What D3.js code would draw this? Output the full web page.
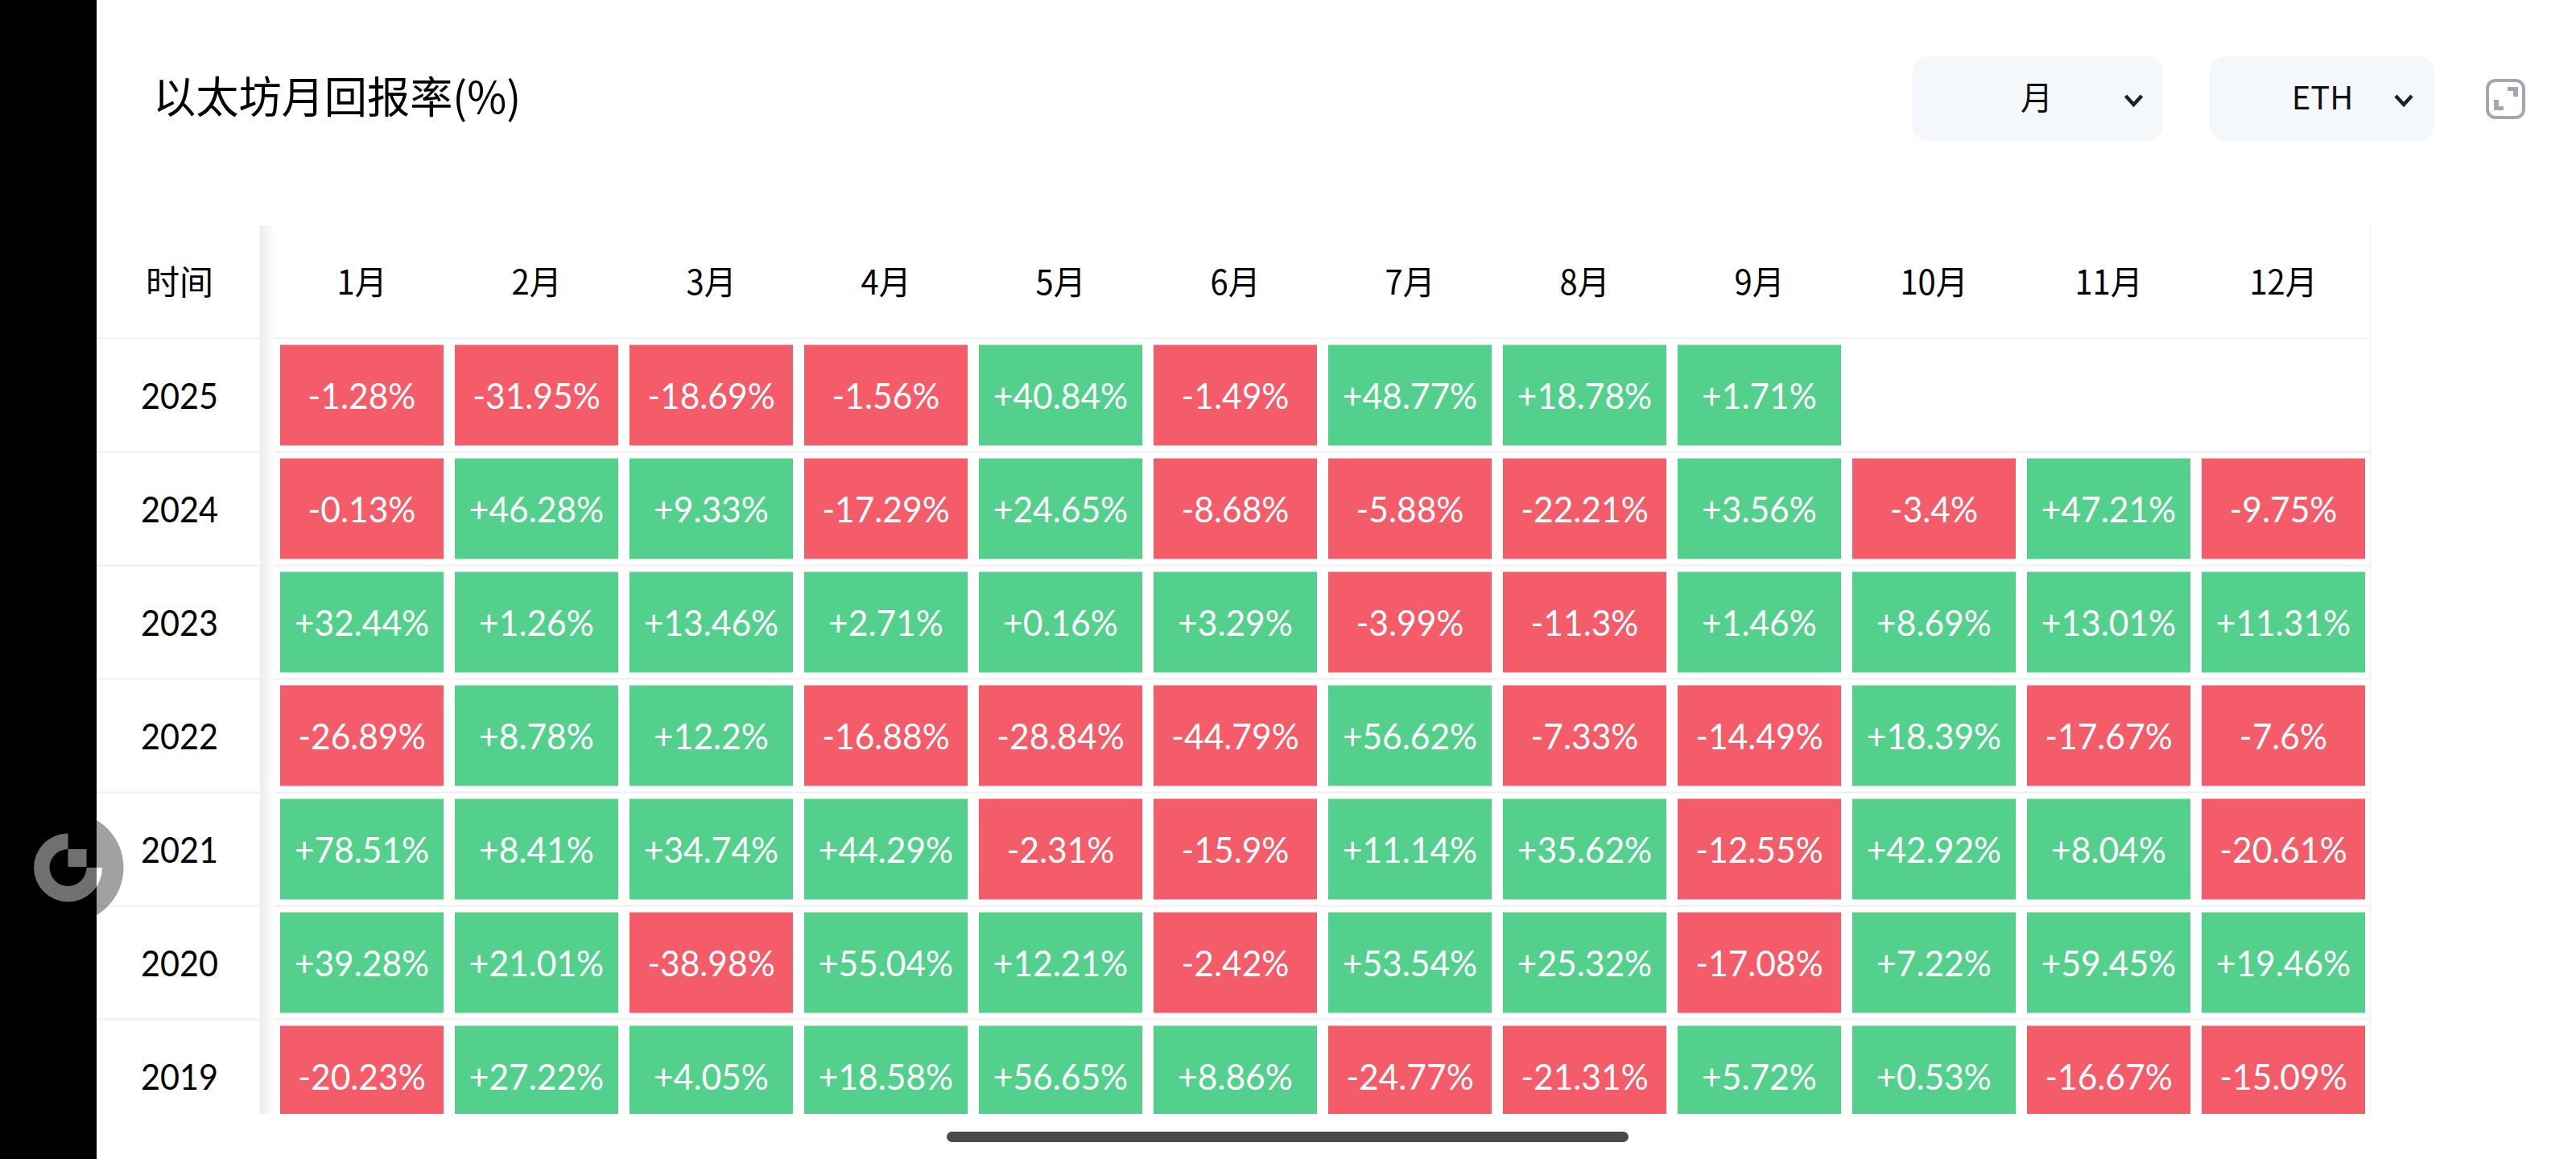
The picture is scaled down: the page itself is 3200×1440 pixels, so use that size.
<!DOCTYPE html>
<html lang="zh">
<head>
<meta charset="utf-8">
<title>以太坊月回报率(%)</title>
<script src="https://cdn.jsdelivr.net/npm/d3@7/dist/d3.min.js"></script>
<style>
html,body{margin:0;padding:0;background:#fff;}
svg{display:block;}
</style>
</head>
<body>
<svg id="chart" width="3200" height="1440"></svg>
<script>
const titleText = "以太坊月回报率(%)";
const cornerLabel = "时间";
const periodLabel = "月";
const assetLabel = "ETH";
const months = ["1月","2月","3月","4月","5月","6月","7月","8月","9月","10月","11月","12月"];
const years = ["2025","2024","2023","2022","2021","2020","2019"];
const returns2025 = [-1.28,-31.95,-18.69,-1.56,40.84,-1.49,48.77,18.78,1.71,null,null,null];
const returns2024 = [-0.13,46.28,9.33,-17.29,24.65,-8.68,-5.88,-22.21,3.56,-3.4,47.21,-9.75];
const returns2023 = [32.44,1.26,13.46,2.71,0.16,3.29,-3.99,-11.3,1.46,8.69,13.01,11.31];
const returns2022 = [-26.89,8.78,12.2,-16.88,-28.84,-44.79,56.62,-7.33,-14.49,18.39,-17.67,-7.6];
const returns2021 = [78.51,8.41,34.74,44.29,-2.31,-15.9,11.14,35.62,-12.55,42.92,8.04,-20.61];
const returns2020 = [39.28,21.01,-38.98,55.04,12.21,-2.42,53.54,25.32,-17.08,7.22,59.45,19.46];
const returns2019 = [-20.23,27.22,4.05,18.58,56.65,8.86,-24.77,-21.31,5.72,0.53,-16.67,-15.09];
const allReturns = [returns2025,returns2024,returns2023,returns2022,returns2021,returns2020,returns2019];

const CJK = '"Noto Sans CJK SC","Noto Sans",sans-serif';
const NUM = 'Lato,"Noto Sans",sans-serif';
const RED = "#f55c6a", GREEN = "#53d18c", LINE = "#eeeff1";

const svg = d3.select("#chart");
// narrow a text run horizontally, keeping its height
const squeeze = (sel, k) => sel.each(function(){
  const t = d3.select(this);
  t.attr("textLength", this.getComputedTextLength()*k).attr("lengthAdjust","spacingAndGlyphs");
});

const defs = svg.append("defs");
const grad = defs.append("linearGradient").attr("id","gutter");
grad.append("stop").attr("offset","0").attr("stop-color","#ececec");
grad.append("stop").attr("offset","1").attr("stop-color","#ffffff");
defs.append("clipPath").attr("id","tableClip").append("rect")
  .attr("x",120).attr("y",280).attr("width",2825).attr("height",1104);
defs.append("clipPath").attr("id","onBand").append("rect").attr("x",-100).attr("y",-100).attr("width",135.5).attr("height",200);
defs.append("clipPath").attr("id","offBand").append("rect").attr("x",35.5).attr("y",-100).attr("width",100).attr("height",200);

const x = d3.scaleBand().domain(months).range([341,2945]);
const y = d3.scaleBand().domain(years).range([420,1407]);
const color = d3.scaleThreshold().domain([0]).range([RED,GREEN]);
const fmt = v => (v>0?"+":"") + v + "%";

const table = svg.append("g").attr("clip-path","url(#tableClip)");

// row rules
table.append("g").selectAll("line").data(years).join("line")
  .attr("x1",120).attr("x2",2945)
  .attr("y1",d=>y(d)+0.5).attr("y2",d=>y(d)+0.5)
  .attr("stroke",LINE).attr("stroke-width",2);

// right border
table.append("line").attr("x1",2944.5).attr("x2",2944.5).attr("y1",280).attr("y2",1384)
  .attr("stroke",LINE).attr("stroke-width",1.5);

// cells
const cells = allReturns.flatMap((row,i)=>row.map((v,j)=>({year:years[i],month:months[j],v}))).filter(d=>d.v!==null);
const INSET_X = 7, INSET_TOP = 8.5, INSET_BOTTOM = 7.5;
table.append("g").selectAll("rect").data(cells).join("rect")
  .attr("x",d=>x(d.month)+INSET_X)
  .attr("y",d=>y(d.year)+INSET_TOP)
  .attr("width",x.bandwidth()-2*INSET_X)
  .attr("height",y.bandwidth()-INSET_TOP-INSET_BOTTOM)
  .attr("fill",d=>color(d.v));
table.append("g").selectAll("text").data(cells).join("text")
  .attr("x",d=>x(d.month)+x.bandwidth()/2)
  .attr("y",d=>y(d.year)+INSET_TOP+(y.bandwidth()-INSET_TOP-INSET_BOTTOM)/2+1.5)
  .attr("dy","0.35em")
  .attr("text-anchor","middle")
  .attr("font-family",NUM).attr("font-size",45)
  .attr("fill","#fff")
  .text(d=>fmt(d.v))
  .call(squeeze,0.945);

// sticky column: white background and gradient gutter
table.append("rect").attr("x",323).attr("y",280).attr("width",18).attr("height",1104).attr("fill","url(#gutter)");

// axes
const topAxis = svg.append("g").attr("transform","translate(0,350)")
  .call(d3.axisTop(x).tickSize(0));
topAxis.select(".domain").remove();
topAxis.selectAll("text").attr("y",1).attr("dy","0.36em")
  .attr("font-family",CJK).attr("font-size",42).attr("fill","#000")
  .call(squeeze,0.95);

const leftAxis = svg.append("g").attr("transform","translate(223,0)")
  .call(d3.axisLeft(y).tickSize(0));
leftAxis.select(".domain").remove();
leftAxis.selectAll("text").attr("x",0).attr("y",1.5).attr("dy","0.35em").attr("text-anchor","middle")
  .attr("font-family",NUM).attr("font-size",45).attr("fill","#000")
  .call(squeeze,0.92);

svg.append("text").attr("x",223).attr("y",351).attr("dy","0.36em").attr("text-anchor","middle")
  .attr("font-family",CJK).attr("font-size",42).attr("fill","#000").text(cornerLabel);

// title
svg.append("text").attr("x",190).attr("y",122).attr("dy","0.36em")
  .attr("font-family",CJK).attr("font-size",54).attr("fill","#000").text(titleText)
  .call(squeeze,0.985);

// selectors
const selectors = [
  {label:periodLabel,x:2375,w:312,tx:2530,cx:2650.5},
  {label:assetLabel,x:2745,w:279,tx:2885,cx:2986}
];
const sel = svg.append("g").selectAll("g").data(selectors).join("g");
sel.append("rect").attr("x",d=>d.x).attr("y",70).attr("width",d=>d.w).attr("height",105).attr("rx",20).attr("fill","#f5f8fa");
sel.append("text").attr("x",d=>d.tx).attr("y",122).attr("dy","0.36em").attr("text-anchor","middle")
  .attr("font-family",CJK).attr("font-size",40).attr("fill","#111").text(d=>d.label);
sel.append("path")
  .attr("d",d=>d3.line()([[d.cx-10,119],[d.cx,130],[d.cx+10,119]]))
  .attr("fill","none").attr("stroke","#1a2030").attr("stroke-width",4.5);

// expand icon
const icon = svg.append("g");
icon.append("rect").attr("x",3090).attr("y",100).attr("width",45).attr("height",46).attr("rx",10)
  .attr("fill","#fff").attr("stroke","#a3a7b1").attr("stroke-width",4);
icon.append("path").attr("d",d3.line()([[3115,108],[3128,108],[3128,120],[3122,120],[3122,113],[3115,113]])).attr("fill","#a3a7b1");
icon.append("path").attr("d",d3.line()([[3098,124],[3104,124],[3104,132],[3110,132],[3110,137],[3098,137]])).attr("fill","#a3a7b1");

// left black band
svg.append("rect").attr("x",0).attr("y",0).attr("width",120).attr("height",1440).attr("fill","#000");

// watermark
const wm = svg.append("g").attr("transform","translate(84.5,1078)");
wm.append("circle").attr("r",69).attr("fill","#000").attr("fill-opacity",0.37);
const ring = d3.arc()({innerRadius:23,outerRadius:42.5,startAngle:Math.PI/2,endAngle:2*Math.PI});
wm.append("path").attr("d",ring).attr("fill","#707070").attr("clip-path","url(#onBand)");
wm.append("path").attr("d",ring).attr("fill","#fff").attr("clip-path","url(#offBand)");
wm.append("rect").attr("x",0).attr("y",-23).attr("width",23).attr("height",22).attr("fill","#707070");

// home bar
svg.append("rect").attr("x",1176).attr("y",1406).attr("width",847).attr("height",13).attr("rx",6.5).attr("fill","#4a4a4a");
</script>
</body>
</html>
